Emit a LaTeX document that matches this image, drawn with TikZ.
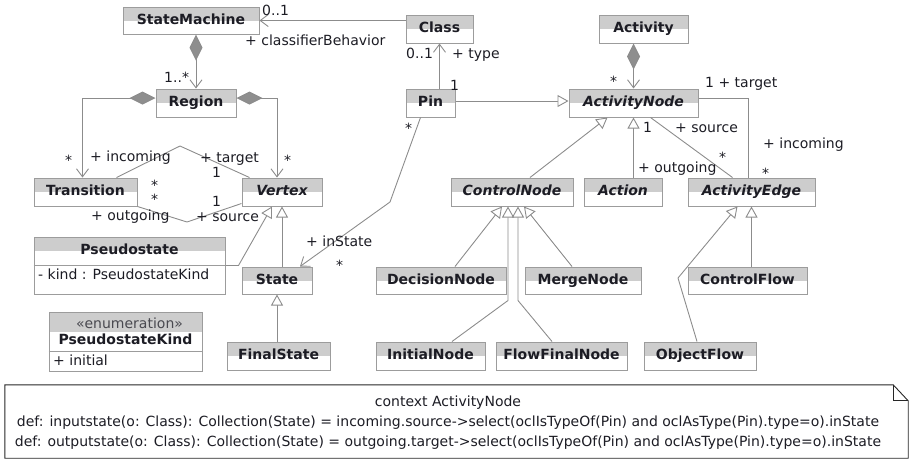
\documentclass[tikz,border=0pt]{standalone}
\usepackage{fontspec}
\setmainfont{DejaVu Sans}
\usetikzlibrary{arrows.meta,calc}

\definecolor{conncol}{HTML}{8C8C8C}
\definecolor{boxcol}{HTML}{9C9C9C}
\definecolor{headcol}{HTML}{CDCDCD}
\definecolor{txtcol}{HTML}{1C1C24}
\definecolor{diacol}{HTML}{8E8E8E}

\tikzset{
  cls/.style={draw=boxcol, line width=1pt, fill=white, inner sep=0pt, text=txtcol,
    text height=10pt, text depth=3pt,
    font=\fontsize{14}{16}\selectfont\bfseries,
    path picture={\fill[headcol] (path picture bounding box.north west)
      rectangle ([yshift=-14pt]path picture bounding box.north east);}},
  abscls/.style={cls, font=\fontsize{14}{16}\selectfont\bfseries\itshape},
  sz/.style 2 args={minimum width=#1pt, minimum height=#2pt},
  conn/.style={draw=conncol, line width=0.9pt},
  nav/.style={conn, -{Straight Barb[length=8pt,width=12pt,line width=0.9pt]}},
  gen/.style={conn, -{Triangle[open,length=11pt,width=12pt,fill=white,line width=0.9pt]}},
  comp/.style={conn, {Diamond[length=26pt,width=13pt,fill=diacol,line width=0.9pt]}-{Straight Barb[length=8pt,width=12pt,line width=0.9pt]}},
  lab/.style={inner sep=0pt, text=txtcol, text height=10pt, text depth=3pt,
    font=\fontsize{14}{16}\selectfont, anchor=west},
}

\begin{document}
\begin{tikzpicture}[x=1pt, y=-1pt]
\useasboundingbox (0,0) rectangle (911,459);

% ---- classes: state machines
\node[cls, sz={136}{27}] (sm) at (191,20.5) {StateMachine};
\node[cls, sz={80}{28}] (reg) at (196,103) {Region};
\node[cls, sz={103}{28}] (trans) at (85.5,192) {Transition};
\node[abscls, sz={80}{28}] (vtx) at (282,192) {Vertex};
\node[cls, sz={191}{57}] (ps) at (129.5,265.5) {};
\draw[boxcol, line width=1pt] (ps.west) -- (ps.east);
\node[cls, draw=none, fill=none, path picture={}] (psn) at (129.5,251) {Pseudostate};
\node[lab] (psa) at (38,276) {- kind : PseudostateKind};
\node[cls, sz={70}{27}] (st) at (277,280.5) {State};
\node[cls, sz={103}{28}] (fs) at (278.5,356) {FinalState};

% enumeration
\node[cls, sz={153}{59}, path picture={\fill[headcol] (path picture bounding box.north west)
      rectangle ([yshift=-20pt]path picture bounding box.north east);}] (en) at (125.5,341.5) {};
\draw[boxcol, line width=1pt] (en.west |- 0,351) -- (en.east |- 0,351);
\node[lab, anchor=center, text=txtcol!80] (ens) at (129.5,325) {«enumeration»};
\node[cls, draw=none, fill=none, path picture={}] (enn) at (125.5,341) {PseudostateKind};
\node[lab] (enl) at (53,362) {+ initial};

% ---- classes: activities
\node[cls, sz={67}{28}] (cls) at (439.5,29) {Class};
\node[cls, sz={89}{28}] (actv) at (643.5,29) {Activity};
\node[cls, sz={49}{28}] (pin) at (430.5,103) {Pin};
\node[abscls, sz={129}{28}] (an) at (633.5,103) {ActivityNode};
\node[abscls, sz={122}{28}] (cn) at (512,192) {ControlNode};
\node[abscls, sz={78}{28}] (action) at (623,192) {Action};
\node[abscls, sz={127}{28}] (ae) at (751.5,192) {ActivityEdge};
\node[cls, sz={130}{27}] (dn) at (441,280.5) {DecisionNode};
\node[cls, sz={116}{27}] (mn) at (583,280.5) {MergeNode};
\node[cls, sz={119}{27}] (cf) at (747.5,280.5) {ControlFlow};
\node[cls, sz={109}{28}] (inn) at (430.5,356) {InitialNode};
\node[cls, sz={131}{28}] (ffn) at (561.5,356) {FlowFinalNode};
\node[cls, sz={112}{28}] (of) at (700,356) {ObjectFlow};

% ---- connectors
\draw[nav] (cls.west |- sm.east) -- (sm.east);
\draw[comp] (sm.south -| reg.north) -- (reg.north);
\draw[comp] ([yshift=5pt]reg.west) -| ([xshift=-3pt]trans.north);
\draw[comp] ([yshift=5pt]reg.east) -| ([xshift=-5pt]vtx.north);
\draw[conn] ([xshift=31pt]trans.north) -- (180,146) -- ([xshift=8pt]vtx.north west);
\draw[conn] (trans.south east) -- (187,222) -- ([yshift=3pt]vtx.south west);
\draw[gen] (ps.east) -- ($(ps.east)+(13,0)$) -- ([xshift=-10pt]vtx.south);
\draw[gen] (st.north -| vtx.south) -- (vtx.south);
\draw[gen] (fs.north -| st.south) -- (st.south);
\draw[nav] ([xshift=-10pt]pin.south) -- (390,202) -- ([xshift=23pt]st.north);
\draw[nav] (pin.north -| cls.south) -- (cls.south);
\draw[gen] ([yshift=2pt]pin.east) -- ([yshift=2pt]an.west);
\draw[comp] (actv.south -| an.north) -- (an.north);
\draw[conn] ([yshift=5pt]an.east) -| ([xshift=-3.5pt]ae.north);
\draw[conn] ([xshift=17pt]an.south) -- ([xshift=-19pt]ae.north);
\draw[gen] (action.north -| an.south) -- (an.south);
\draw[gen] ([xshift=18pt]cn.north) -- ([xshift=-26pt]an.south);
\draw[gen] ([xshift=14pt]dn.north) -- ([xshift=-10pt]cn.south);
\draw[gen] ([xshift=21.5pt]inn.north) -- ($(cn.south)+(-4,94)$) -- ([xshift=-4pt]cn.south);
\draw[gen] ([xshift=-9.5pt]ffn.north) -- ($(cn.south)+(6,94)$) -- ([xshift=6pt]cn.south);
\draw[gen] ([xshift=-11pt]mn.north) -- ([xshift=12pt]cn.south);
\draw[gen] (cf.north -| ae.south) -- (ae.south);
\draw[gen] ([xshift=-3pt]of.north) -- (678,278) -- ([xshift=-14pt]ae.south);

% ---- role names and multiplicities
\node[lab] (m1) at (262,12) {0..1};
\node[lab] (m2) at (245,42) {+ classifierBehavior};
\node[lab] (m3) at (164,79) {1..*};
\node[lab] (m4) at (65,162) {*};
\node[lab] (m5) at (90,158) {+ incoming};
\node[lab] (m6) at (200,159) {+ target};
\node[lab] (m7) at (212,174) {1};
\node[lab] (m8) at (284,162) {*};
\node[lab] (m9) at (151,187) {*};
\node[lab] (m10) at (151,201) {*};
\node[lab] (m11) at (212,203) {1};
\node[lab] (m12) at (91,217) {+ outgoing};
\node[lab] (m13) at (196,218) {+ source};
\node[lab] (m14) at (306,243) {+ inState};
\node[lab] (m15) at (336,267) {*};
\node[lab] (m16) at (405,130) {*};
\node[lab] (m17) at (406,55) {0..1};
\node[lab] (m18) at (452,55) {+ type};
\node[lab] (m19) at (450,87) {1};
\node[lab] (m20) at (610,83) {*};
\node[lab] (m21) at (705,84) {1 + target};
\node[lab] (m22) at (643,129) {1};
\node[lab] (m23) at (675,129) {+ source};
\node[lab] (m24) at (719,159) {*};
\node[lab] (m25) at (638,169) {+ outgoing};
\node[lab] (m26) at (763,145) {+ incoming};
\node[lab] (m27) at (762,175) {*};

% ---- OCL note
\node[minimum width=903pt, minimum height=73pt, inner sep=0pt] (note) at (456.5,421.5) {};
\draw[black!85, line width=0.9pt] (note.north west) -- ([xshift=-15pt]note.north east)
  -- ([yshift=-16pt]note.north east) -- (note.south east) -- (note.south west) -- cycle;
\draw[black!85, line width=0.9pt] ([xshift=-15pt]note.north east) -- ([xshift=-15pt,yshift=-16pt]note.north east)
  -- ([yshift=-16pt]note.north east);
\node[align=center, inner sep=0pt, text=txtcol, font=\fontsize{14}{20}\selectfont] (notetext) at (448,423)
  {context ActivityNode\\
   def: inputstate(o: Class): Collection(State) = incoming.source->select(oclIsTypeOf(Pin) and oclAsType(Pin).type=o).inState\\
   def: outputstate(o: Class): Collection(State) = outgoing.target->select(oclIsTypeOf(Pin) and oclAsType(Pin).type=o).inState};
\end{tikzpicture}
\end{document}
